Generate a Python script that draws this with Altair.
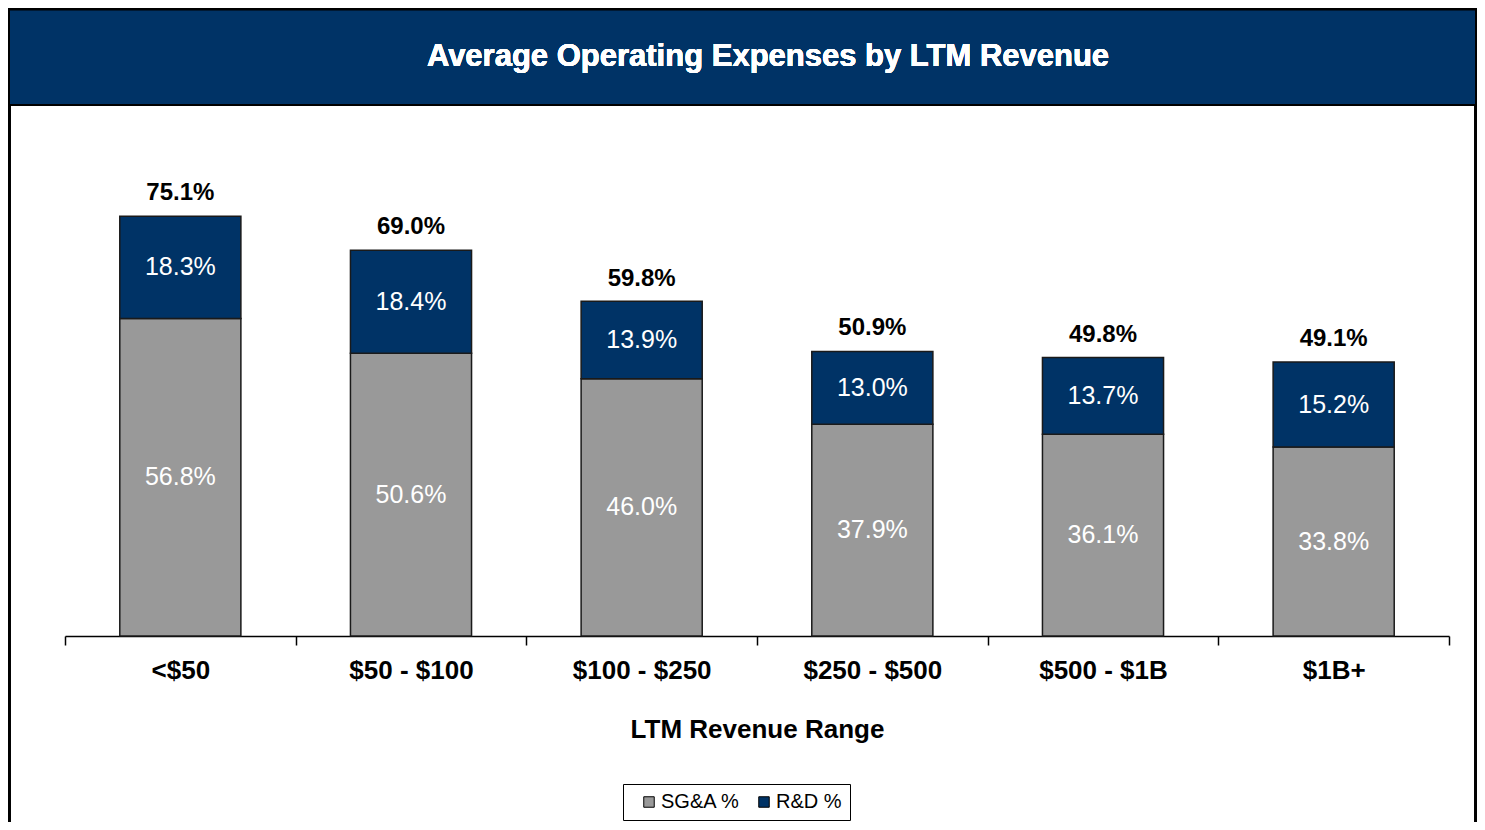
import altair as alt
import pandas as pd

categories = ["<$50", "$50 - $100", "$100 - $250", "$250 - $500", "$500 - $1B", "$1B+"]
sga = [56.8, 50.6, 46.0, 37.9, 36.1, 33.8]
rd = [18.3, 18.4, 13.9, 13.0, 13.7, 15.2]
totals = [75.1, 69.0, 59.8, 50.9, 49.8, 49.1]
series = ["SG&A %", "R&D %"]
colors = ["#999999", "#003366"]
title_text = "Average Operating Expenses by LTM Revenue"

rows = []
for c, s, r in zip(categories, sga, rd):
    rows.append(dict(cat=c, series=series[0], lo=0.0, hi=s, mid=s / 2, label=f"{s:.1f}%"))
    rows.append(dict(cat=c, series=series[1], lo=s, hi=s + r, mid=s + r / 2, label=f"{r:.1f}%"))
df = pd.DataFrame(rows)
tot = pd.DataFrame(dict(cat=categories, total=totals, label=[f"{t:.1f}%" for t in totals]))

FONT = "Liberation Sans, Arial, Helvetica, sans-serif"
W, H = 1384, 559

x_enc = alt.X(
    "cat:N", sort=categories,
    scale=alt.Scale(paddingInner=0, paddingOuter=0),
    axis=alt.Axis(
        title="LTM Revenue Range", tickBand="extent", labelAngle=0,
        domainColor="black", domainWidth=1.5, tickColor="black", tickWidth=1.5, tickSize=9,
        labelFont=FONT, labelFontSize=26, labelFontWeight="bold", labelColor="black", labelPadding=12,
        titleFont=FONT, titleFontSize=26, titleFontWeight="bold", titleColor="black", titlePadding=33,
        grid=False,
    ),
)
y_scale = alt.Scale(domain=[0, 100], nice=False, zero=True)

bars = alt.Chart(df).mark_bar(width=alt.RelativeBandSize(0.525), stroke="#1a1a1a", strokeWidth=1.5).encode(
    x=x_enc,
    y=alt.Y("lo:Q", scale=y_scale, axis=alt.Axis(
        title="% of Revs.", domain=False, ticks=False, labels=False, grid=False,
        titleFont=FONT, titleFontSize=25, titleFontWeight="bold", titleColor="black", titlePadding=15)),
    y2="hi:Q",
    color=alt.Color("series:N", scale=alt.Scale(domain=series, range=colors), legend=alt.Legend(
        orient="none", legendX=558, legendY=707, direction="horizontal", title=None,
        strokeColor="black", padding=8, fillColor="white",
        symbolType="square", symbolStrokeColor="black", symbolStrokeWidth=1, symbolSize=110,
        symbolOpacity=1, labelFont=FONT, labelFontSize=20, labelColor="black", columnPadding=6,
        symbolOffset=8, labelOffset=2)),
)

inner = alt.Chart(df).mark_text(font=FONT, fontSize=25, color="white", baseline="middle").encode(
    x=alt.X("cat:N", sort=categories), y=alt.Y("mid:Q", scale=y_scale, axis=None), text="label:N")

top = alt.Chart(tot).mark_text(font=FONT, fontSize=24, fontWeight="bold", color="black", baseline="middle", dy=-23).encode(
    x=alt.X("cat:N", sort=categories), y=alt.Y("total:Q", scale=y_scale, axis=None), text="label:N")

frame = alt.Chart(tot).mark_rect(fill="white", fillOpacity=0, stroke="black", strokeWidth=3).encode(
    x=alt.value(-56), x2=alt.value(1411), y=alt.value(-67.5), y2=alt.value(790))

banner = alt.Chart(tot).mark_rect(fill="#003366", stroke="black", strokeWidth=2).encode(
    x=alt.value(-56), x2=alt.value(1411), y=alt.value(-67.5), y2=alt.value(28))

btitle = alt.Chart(tot).mark_text(
    text=title_text, font="Liberation Sans Narrow, Arial Narrow, Liberation Sans, sans-serif",
    fontSize=31, fontWeight="bold", color="white", align="center", baseline="middle").encode(
    x=alt.value(703), y=alt.value(-20))

chart = alt.layer(frame, banner, btitle, bars, inner, top).properties(
    width=W, height=H,
    autosize=alt.AutoSizeParams(type="none"),
    padding={"left": 57, "top": 69, "right": 28, "bottom": 186},
    background="white",
).configure_view(strokeWidth=0, stroke="transparent")

chart.save("out.html", embed_options={"renderer": "svg", "actions": False})
